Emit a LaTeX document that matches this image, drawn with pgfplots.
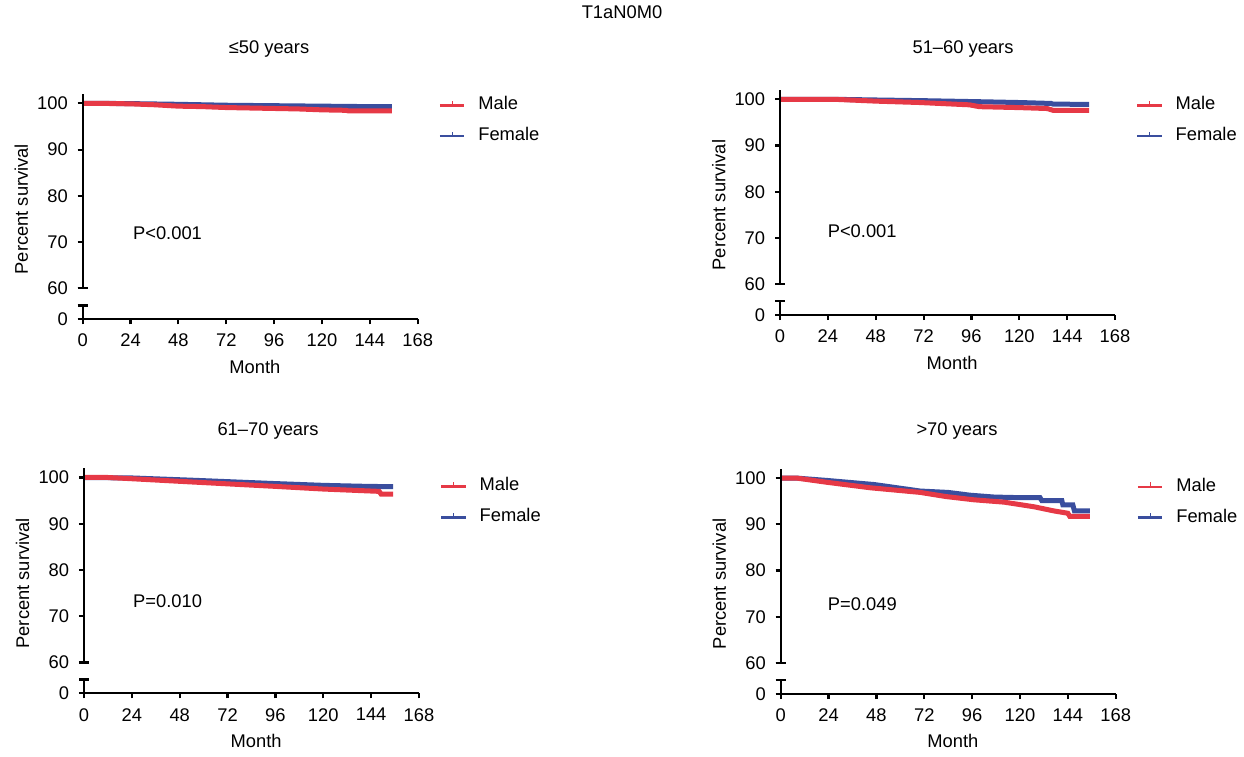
\documentclass[border=0pt]{standalone}
\usepackage{fontspec}
\setmainfont{Liberation Sans}
\usepackage{pgfplots}
\pgfplotsset{compat=1.18}
\definecolor{mred}{RGB}{230,57,70}
\definecolor{mblue}{RGB}{58,78,158}
\newcommand{\mysize}{\fontsize{11pt}{13pt}\selectfont}
\pgfplotsset{
  kmaxis/.style={
    scale only axis, width=201pt, height=135.1pt,
    xmin=0, xmax=168, ymin=53.3, ymax=102,
    axis x line=bottom, axis y line=left,
    x axis line style={-, line width=1.3pt, black},
    y axis line style={draw=none},
    xtick={0,24,...,168},
    ytick={53.3,60,70,80,90,100}, yticklabels={0,60,70,80,90,100},
    tick align=outside, major tick length=3pt,
    tick style={line width=1.3pt, black},
    every tick label/.append style={font=\mysize},
    xticklabel style={yshift=-2.4pt},
    yticklabel style={xshift=-2.4pt},
    label style={font=\mysize},
    xlabel=Month, ylabel=Percent survival,
    xlabel style={at={(axis description cs:0.514,-0.21)}, anchor=center},
    ylabel style={at={(axis description cs:-0.183,0.489)}, anchor=center},
    /pgf/number format/assume math mode=true,
    clip=false,
    legend cell align=left,
    legend style={draw=none, fill=none,
      anchor=north west, font=\mysize, row sep=8pt, column sep=7.6pt, inner sep=0pt,
      nodes={inner sep=0pt, text height=8pt, text depth=2.5pt, anchor=west}},
    legend image code/.code={
      \draw[line width=1.6pt,##1] (0pt,0pt) -- (14.6pt,0pt);
      \draw[line width=0.7pt,##1] (7.3pt,0pt) -- (7.3pt,2.7pt);},
  },
  kmline/.style={line width=3pt, forget plot},
}
\newcommand{\brokenyaxis}{%
  \draw[line width=1.3pt] (axis cs:0,60) -- (axis cs:0,102);
  \draw[line width=1.3pt] (axis cs:0,53.3) -- (axis cs:0,56.3);
  \draw[line width=1.3pt] ([xshift=-3pt]axis cs:0,60) -- ([xshift=3pt]axis cs:0,60);
  \draw[line width=1.3pt] ([xshift=-3pt]axis cs:0,56.3) -- ([xshift=3pt]axis cs:0,56.3);
}
\newcommand{\kmlegend}{%
  \addlegendimage{color=mred}\addlegendentry{Male}
  \addlegendimage{color=mblue}\addlegendentry{Female}
}
\begin{document}
\begin{tikzpicture}
\useasboundingbox (0,0) rectangle (746.4pt,453.6pt);
\node[font=\mysize] at (373.2pt,446.4pt) {T1aN0M0};
\node[font=\mysize] at (161.4pt,424.2pt) {≤50 years};
\node[font=\mysize] at (577.8pt,424.2pt) {51--60 years};
\node[font=\mysize] at (160.8pt,195.0pt) {61--70 years};
\node[font=\mysize] at (574.2pt,195.0pt) {>70 years};

% Panel 1: <=50
\begin{axis}[kmaxis, at={(49.62pt,262.02pt)}, anchor=south west,
  legend style={at={(axis description cs:1.0615,0.991)}}]
\kmlegend
\addplot[mblue, kmline] coordinates {(0,100) (10,100) (24,99.95) (48,99.8) (72,99.6) (96,99.5) (120,99.4) (144,99.3) (155,99.3)};
\addplot[mred, kmline] coordinates {(0,100) (10,100) (24,99.9) (36,99.7) (48,99.4) (60,99.3) (72,99.1) (84,99.0) (96,98.9) (108,98.8) (120,98.6) (132,98.5) (133,98.4) (155,98.4)};
\brokenyaxis
\node[anchor=west, inner sep=0pt, font=\mysize] at (axis cs:25.1,71.9) {P<0.001};
\end{axis}

% Panel 2: 51-60
\begin{axis}[kmaxis, at={(468.0pt,264.48pt)}, anchor=south west,
  legend style={at={(axis description cs:1.0615,0.973)}}]
\kmlegend
\addplot[mblue, kmline] coordinates {(0,100) (27,100) (48,99.85) (72,99.7) (97,99.5) (120,99.3) (136,99.1) (137,98.95) (155,98.9)};
\addplot[mred, kmline] coordinates {(0,100) (27,100) (48,99.6) (70,99.3) (95,98.8) (100,98.4) (120,98.2) (134,98.0) (137,97.6) (155,97.6)};
\brokenyaxis
\node[anchor=west, inner sep=0pt, font=\mysize] at (axis cs:23.8,71.5) {P<0.001};
\end{axis}

% Panel 3: 61-70
\begin{axis}[kmaxis, at={(50.4pt,37.56pt)}, anchor=south west,
  legend style={at={(axis description cs:1.0615,0.960)}}]
\kmlegend
\addplot[mblue, kmline] coordinates {(0,100) (24,99.9) (55,99.4) (95,98.7) (120,98.3) (140,98.1) (155,98.0)};
\addplot[mred, kmline] coordinates {(0,100) (12,100) (21,99.8) (51,99.1) (95,98.1) (120,97.5) (148,97.0) (149,96.4) (155,96.4)};
\brokenyaxis
\node[anchor=west, inner sep=0pt, font=\mysize] at (axis cs:24.5,73.2) {P=0.010};
\end{axis}

% Panel 4: >70
\begin{axis}[kmaxis, at={(468.42pt,37.2pt)}, anchor=south west,
  legend style={at={(axis description cs:1.0615,0.960)}}]
\kmlegend
\addplot[mblue, kmline] coordinates {(0,100) (8,100) (23,99.5) (47,98.6) (70,97.2) (84,96.9) (95,96.3) (107,95.9) (117,95.8) (130,95.8) (131,95.1) (141,95.1) (141.5,94.2) (146.5,94.2) (147.3,92.9) (155,92.9)};
\addplot[mred, kmline] coordinates {(0,100) (8,100) (23,99.1) (45,97.9) (70,96.9) (83,96.0) (97,95.3) (112,94.8) (127,93.8) (137,92.9) (144,92.4) (145,91.7) (155,91.7)};
\brokenyaxis
\node[anchor=west, inner sep=0pt, font=\mysize] at (axis cs:23.5,72.8) {P=0.049};
\end{axis}
\end{tikzpicture}
\end{document}
